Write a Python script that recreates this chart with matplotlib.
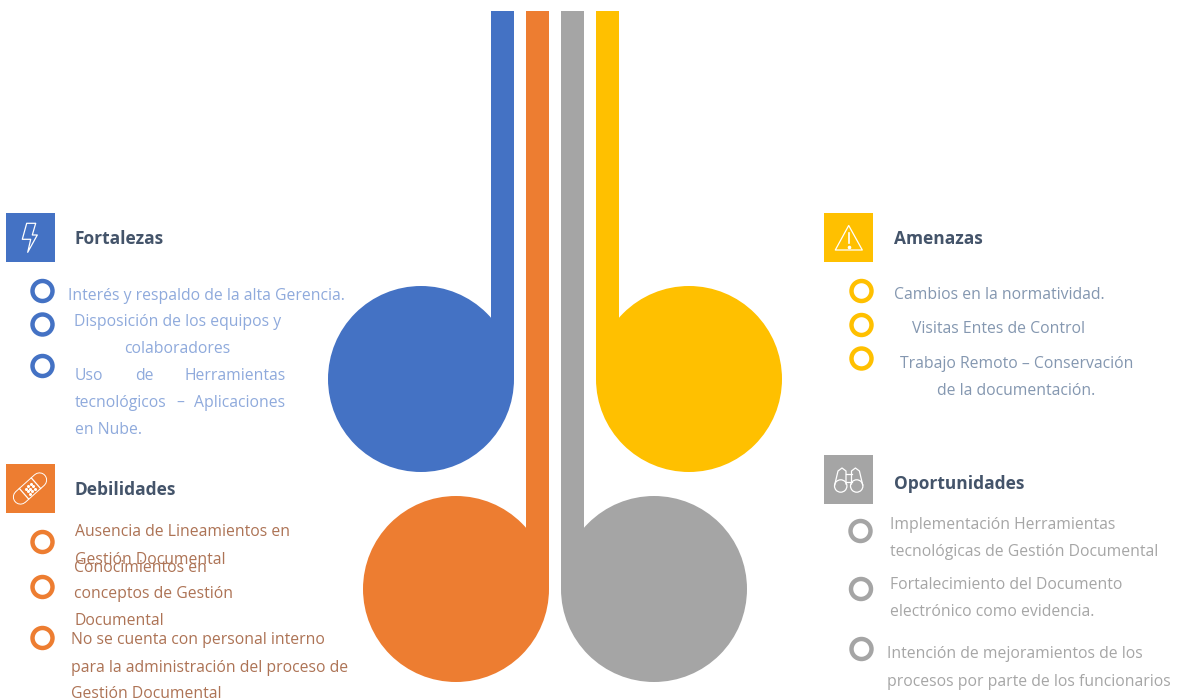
import matplotlib
matplotlib.use('Agg')
import matplotlib.pyplot as plt
from matplotlib.patches import Circle, Rectangle, Polygon

plt.rcParams['font.family'] = ['Open Sans', 'DejaVu Sans']

# colores de cada bloque
azul = '#4472C4'
naranja = '#ED7D31'
gris = '#A5A5A5'
amarillo = '#FFC000'

# gotas: color, barra (izquierda), centro del circulo, radio
gota_colores = [azul, naranja, gris, amarillo]
gota_barra_x = [491, 526, 561, 596]
gota_centro_x = [421, 456, 654, 689]
gota_centro_y = [379, 589, 589, 379]
gota_radio = 93
barra_ancho = 23
barra_tope = 11

# cuadros de titulo
titulos = ['Fortalezas', 'Debilidades', 'Amenazas', 'Oportunidades']
titulo_x = [74.5, 75, 893.5, 894]
titulo_y = [244.5, 495, 244.5, 489]
cuadro_x = [6, 6, 824, 824]
cuadro_y = [213, 464, 213, 455]
cuadro_colores = [azul, naranja, amarillo, gris]
cuadro_lado = 49

# circulos de las vinetas
vineta_x = [42.5, 42.5, 42.5, 42.5, 42.5, 42.5, 861.5, 861.5, 861.5, 860.5, 861, 861.5]
vineta_y = [291, 324.5, 366, 542, 587, 638, 291, 325, 358.5, 531, 589, 649]
vineta_colores = [azul] * 3 + [naranja] * 3 + [amarillo] * 3 + [gris] * 3

# textos de cada lista
texto_azul = '#8FAADC'
texto_cafe = '#AD7355'
texto_pizarra = '#8497B0'
texto_gris = '#A6A6A6'

fortalezas = ['Interés y respaldo de la alta Gerencia.', 'Disposición de los equipos y', 'colaboradores',
              'Uso', 'de', 'tecnológicos', '–', 'en Nube.']
fortalezas_x = [68.5, 73.5, 124.5, 75, 135, 75, 176, 75]
fortalezas_y = [299.5, 326.5, 353, 380, 380, 407, 407, 433.5]

# palabras justificadas a la derecha
fortalezas_der = ['Herramientas', 'Aplicaciones']
fortalezas_der_y = [380, 407]

debilidades = ['Ausencia de Lineamientos en', 'Gestión Documental', 'Conocimientos en', 'conceptos de Gestión',
               'Documental', 'No se cuenta con personal interno', 'para la administración del proceso de',
               'Gestión Documental']
debilidades_x = [75, 75, 74.5, 74.5, 74.5, 71, 71, 71]
debilidades_y = [536.5, 564, 571.5, 598, 625, 644.5, 671.5, 698]

amenazas = ['Cambios en la normatividad.', 'Visitas Entes de Control', 'Trabajo Remoto – Conservación',
            'de la documentación.']
amenazas_x = [894.5, 912.5, 900, 937]
amenazas_y = [299, 333, 368, 395]

oportunidades = ['Implementación Herramientas', 'tecnológicas de Gestión Documental', 'Fortalecimiento del Documento',
                 'electrónico como evidencia.', 'Intención de mejoramientos de los',
                 'procesos por parte de los funcionarios']
oportunidades_x = [890, 890, 890, 890, 887, 887]
oportunidades_y = [529, 556.5, 589, 616, 658.5, 686]

tam_texto = 11.35

fig = plt.figure(figsize=(11.78, 7), dpi=100)
ax = fig.add_axes([0, 0, 1, 1])
ax.set_xlim(0, 1178)
ax.set_ylim(700, 0)
ax.axis('off')

# gotas centrales
for c, bx, cx, cy in zip(gota_colores, gota_barra_x, gota_centro_x, gota_centro_y):
    ax.add_patch(Rectangle((bx, barra_tope), barra_ancho, cy - barra_tope, fc=c, ec='none'))
    ax.add_patch(Circle((cx, cy), gota_radio, fc=c, ec='none'))

# cuadros y titulos
for t, tx, ty, qx, qy, c in zip(titulos, titulo_x, titulo_y, cuadro_x, cuadro_y, cuadro_colores):
    ax.add_patch(Rectangle((qx, qy), cuadro_lado, cuadro_lado, fc=c, ec='none'))
    ax.text(tx, ty, t, fontsize=12.5, fontweight='bold', color='#44546A', va='baseline')

# vinetas
for x, y, c in zip(vineta_x, vineta_y, vineta_colores):
    ax.add_patch(Circle((x, y), 10, fc='none', ec=c, lw=3.2))


def escribir(textos, xs, ys, color):
    for t, x, y in zip(textos, xs, ys):
        ax.text(x, y, t, fontsize=tam_texto, color=color, va='baseline')


escribir(fortalezas, fortalezas_x, fortalezas_y, texto_azul)
for t, y in zip(fortalezas_der, fortalezas_der_y):
    ax.text(285.5, y, t, fontsize=tam_texto, color=texto_azul, va='baseline', ha='right')
escribir(debilidades, debilidades_x, debilidades_y, texto_cafe)
escribir(amenazas, amenazas_x, amenazas_y, texto_pizarra)
escribir(oportunidades, oportunidades_x, oportunidades_y, texto_gris)

# icono rayo
rayo = [(26.7, 223.3), (35.7, 223.3), (32.3, 235), (37.3, 235), (27.7, 252.3), (30.7, 239.3), (22.3, 239.3)]
ax.add_patch(Polygon(rayo, closed=True, fc='none', ec='white', lw=0.9, joinstyle='round'))

# icono advertencia
triangulo = [(848.7, 225.5), (862.3, 250), (835.3, 250)]
ax.add_patch(Polygon(triangulo, closed=True, fc='none', ec='white', lw=0.9, joinstyle='round'))
ax.plot([848.7, 848.7], [232.5, 243], color='white', lw=1.2)
ax.plot([848.7], [246.5], marker='o', ms=1.6, color='white')

# icono curita
ax.plot([20.5, 39.5], [497, 480], color='white', lw=11, solid_capstyle='round')
ax.plot([20.5, 39.5], [497, 480], color=naranja, lw=9.6, solid_capstyle='round')
ax.plot([19.4, 28.6], [488.5, 499], color='white', lw=0.9)
ax.plot([31.4, 40.6], [478, 488.5], color='white', lw=0.9)
punto_x = [25.5, 28, 30.5, 27.5, 30, 32.5, 29.5, 32, 34.5]
punto_y = [488.5, 486, 483.5, 491, 488.5, 486, 493.5, 491, 488.5]
ax.plot(punto_x, punto_y, ls='none', marker='o', ms=1.2, color='white')

# icono binoculares
for cx in [840.7, 856.7]:
    ax.add_patch(Circle((cx, 486), 6.2, fc='none', ec='white', lw=0.9))
ax.plot([834.7, 838, 842, 846, 846], [485, 471, 468, 471, 484], color='white', lw=0.9)
ax.plot([862.7, 859.4, 855.4, 851.5, 851.5], [485, 471, 468, 471, 484], color='white', lw=0.9)
ax.plot([846, 851.5], [474, 474], color='white', lw=0.9)
ax.plot([846, 851.5], [482, 482], color='white', lw=0.9)

fig.savefig('out.png', dpi=100, facecolor='white')
